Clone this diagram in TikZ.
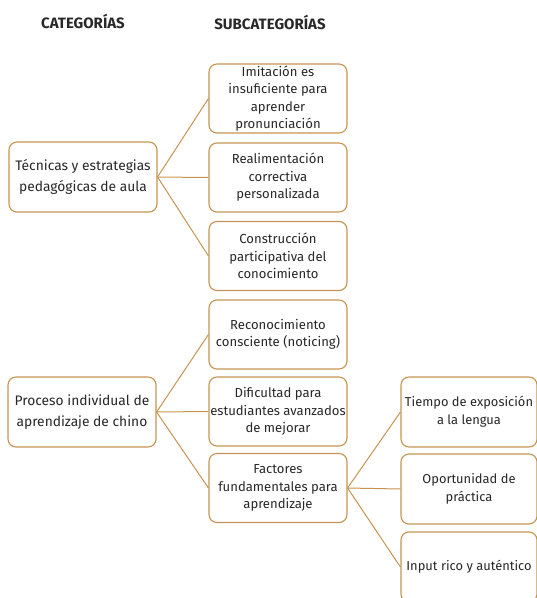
\documentclass[tikz,border=0pt]{standalone}
\usepackage{fontspec}
\setmainfont{Fira Sans}
\usetikzlibrary{positioning}
\definecolor{oro}{RGB}{198,148,82}
\definecolor{testo}{RGB}{40,40,40}

\tikzset{
  caja/.style={rectangle,draw=oro,fill=white,line width=1.1pt,rounded corners=8pt,
    align=center,text=testo,inner sep=1pt},
  cat/.style={caja,minimum width=148pt,minimum height=70pt,font=\fontsize{13.8}{21}\selectfont},
  sub/.style={caja,minimum width=138pt,minimum height=69pt,font=\fontsize{13.1}{17.5}\selectfont},
  hoja/.style={caja,minimum width=136pt,minimum height=70pt,font=\fontsize{12.9}{18}\selectfont},
  rama/.style={draw=oro,line width=1pt},
  titulo/.style={font=\fontsize{15}{16}\selectfont\bfseries,text=testo}
}

\begin{document}
\begin{tikzpicture}[x=1pt,y=-1pt]
    \clip (0,0) rectangle (537,598);

    % Titoli
    \node[titulo] (tcat) at (83,21) {CATEGORÍAS};
    \node[titulo] (tsub) at (270,22) {SUBCATEGORÍAS};

    % Prima categoria
    \node[cat] (tecnicas) at (83,177) {Técnicas y estrategias\\pedagógicas de aula};
    \node[sub] (imitacion) at (278,98.5) {Imitación es\\insuficiente para\\aprender\\pronunciación};
    \node[sub] (realim) at (278,177.5) {Realimentación\\correctiva\\personalizada};
    \node[sub] (constr) at (278,256) {Construcción\\participativa del\\conocimiento};

    % Seconda categoria
    \node[cat] (proceso) at (82,412) {Proceso individual de\\aprendizaje de chino};
    \node[sub] (recon) at (278,334.5) {Reconocimiento\\consciente (noticing)};
    \node[sub] (dific) at (278,411.5) {Dificultad para\\estudiantes avanzados\\de mejorar};
    \node[sub] (factores) at (278,488) {Factores\\fundamentales para\\aprendizaje};

    % Fattori
    \node[hoja] (tiempo) at (469,412) {Tiempo de exposición\\a la lengua};
    \node[hoja] (oport) at (469,489) {Oportunidad de\\práctica};
    \node[hoja] (input) at (469,567) {Input rico y auténtico};

    % Connessioni
    \draw[rama] (tecnicas.east) -- (imitacion.west);
    \draw[rama] (tecnicas.east) -- (realim.west);
    \draw[rama] (tecnicas.east) -- (constr.west);
    \draw[rama] (proceso.east) -- (recon.west);
    \draw[rama] (proceso.east) -- (dific.west);
    \draw[rama] (proceso.east) -- (factores.west);
    \draw[rama] (factores.east) -- (tiempo.west);
    \draw[rama] (factores.east) -- (oport.west);
    \draw[rama] (factores.east) -- (input.west);
\end{tikzpicture}
\end{document}
